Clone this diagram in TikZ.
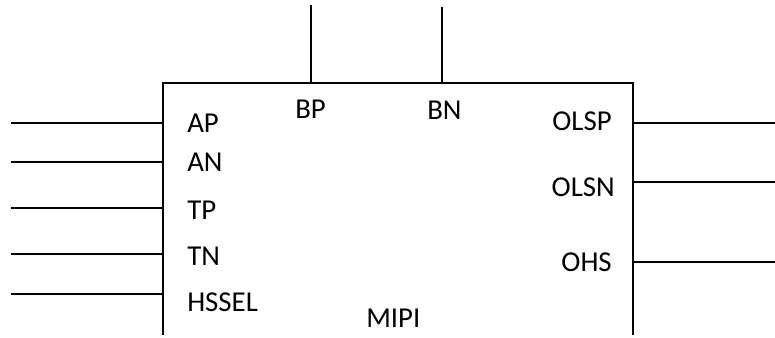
\documentclass[tikz,border=0pt]{standalone}
\usepackage{fontspec}
\setmainfont{Carlito}
\begin{document}
\begin{tikzpicture}[pin/.style={line width=1.1pt}, lbl/.style={font=\fontsize{20.5}{22}\selectfont, inner sep=0pt}]
\useasboundingbox (0,0) rectangle (19.375,8.425);
\coordinate (bl) at (4.075,0.05); \coordinate (tl) at (4.075,6.35); \coordinate (tr) at (15.825,6.35); \coordinate (br) at (15.825,0.05);
\draw[pin] (bl)--(tl)--(tr)--(br);
\foreach \nm/\y in {ap/5.35, an/4.375, tp/3.225, tn/2.075, hs/1.075}
  {\coordinate (\nm) at (4.075,\y); \coordinate (\nm-in) at (0.275,\y); \draw[pin] (\nm-in)--(\nm);}
\foreach \nm/\y in {olsp/5.35, olsn/3.875, ohs/1.875}
  {\coordinate (\nm) at (15.825,\y); \coordinate (\nm-out) at (19.375,\y); \draw[pin] (\nm)--(\nm-out);}
\coordinate (bp) at (7.775,6.35); \coordinate (bp-in) at (7.775,8.3); \draw[pin] (bp-in)--(bp);
\coordinate (bn) at (11.05,6.35); \coordinate (bn-in) at (11.05,8.25); \draw[pin] (bn-in)--(bn);
\node[lbl, anchor=base west] (APtxt) at (4.675,5.125) {AP}; \node[lbl, anchor=base west] (ANtxt) at (4.675,4.125) {AN}; \node[lbl, anchor=base west] (TPtxt) at (4.675,2.95) {TP}; \node[lbl, anchor=base west] (TNtxt) at (4.675,1.8) {TN}; \node[lbl, anchor=base west] (HSSELtxt) at (4.675,0.65) {HSSEL};
\node[lbl, anchor=base west] (BPtxt) at (7.375,5.45) {BP}; \node[lbl, anchor=base west] (BNtxt) at (10.675,5.425) {BN};
\node[lbl, anchor=base east] (OLSPtxt) at (15.3,5.15) {OLSP}; \node[lbl, anchor=base east] (OLSNtxt) at (15.375,3.525) {OLSN}; \node[lbl, anchor=base east] (OHStxt) at (15.3,1.65) {OHS};
\node[lbl, anchor=base west] (MIPItxt) at (9.15,0.25) {MIPI};
\end{tikzpicture}
\end{document}
